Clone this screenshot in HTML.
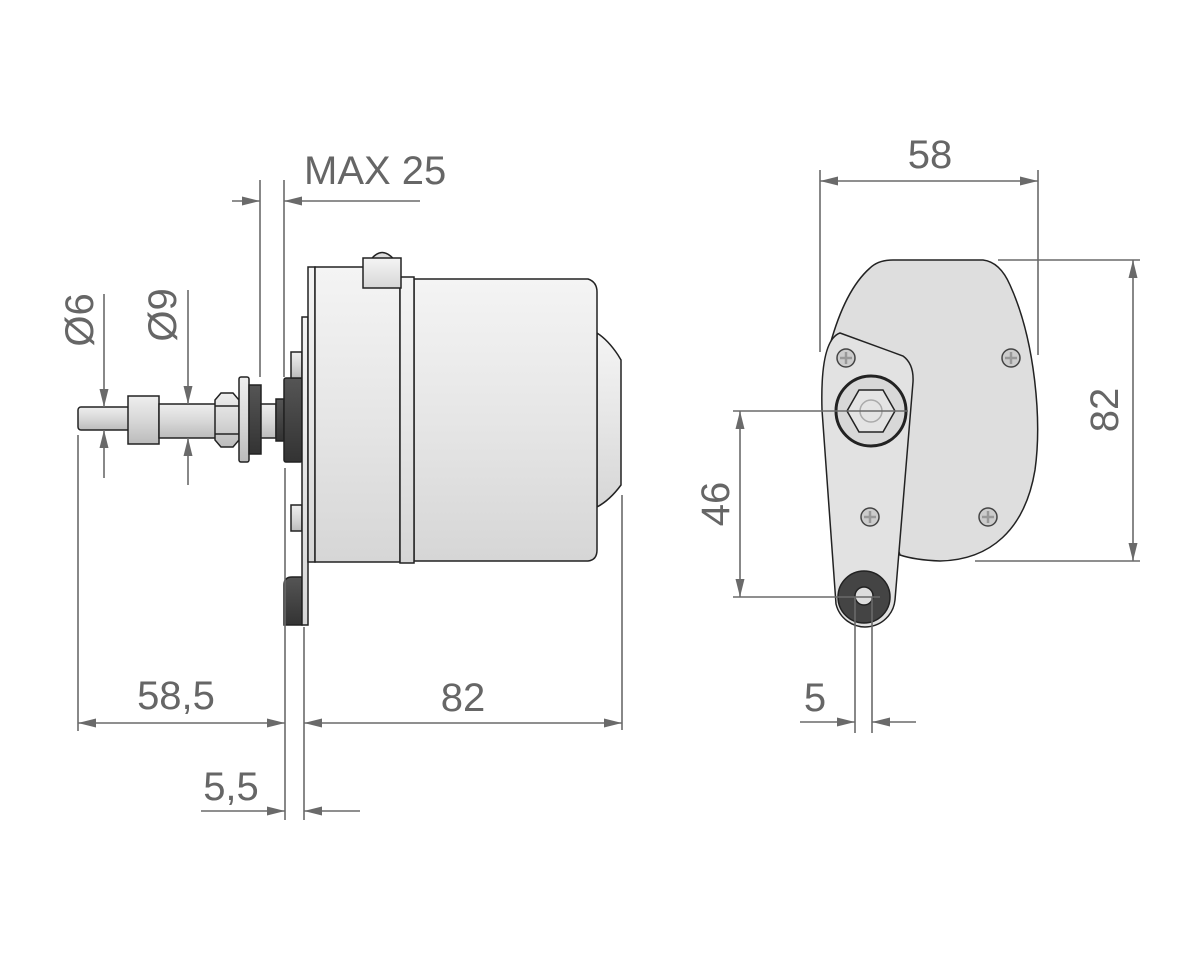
<!DOCTYPE html>
<html><head><meta charset="utf-8"><style>
html,body{margin:0;padding:0;background:#fff;}
svg{display:block;}
text{font-family:"Liberation Sans",Arial,sans-serif;fill:#666;font-size:40px;}
</style></head><body>
<svg width="1200" height="960" viewBox="0 0 1200 960" xmlns="http://www.w3.org/2000/svg">
<defs>
<linearGradient id="gv" x1="0" y1="0" x2="0" y2="1">
<stop offset="0" stop-color="#f4f4f4"/><stop offset="0.5" stop-color="#e6e6e6"/><stop offset="1" stop-color="#d6d6d6"/></linearGradient>
<linearGradient id="gs" x1="0" y1="0" x2="0" y2="1">
<stop offset="0" stop-color="#eee"/><stop offset="0.5" stop-color="#d8d8d8"/><stop offset="1" stop-color="#bbb"/></linearGradient>
<linearGradient id="gd" x1="0" y1="0" x2="0" y2="1">
<stop offset="0" stop-color="#555"/><stop offset="0.5" stop-color="#444"/><stop offset="1" stop-color="#333"/></linearGradient>
<marker id="a" viewBox="0 0 20 10" refX="20" refY="5" markerWidth="22" markerHeight="9" markerUnits="userSpaceOnUse" orient="auto-start-reverse"><path d="M0,0 L20,5 L0,10 Z" fill="#6a6a6a"/></marker>
</defs>

<g stroke="#222" stroke-width="1.5">
<rect x="78" y="407" width="52" height="23" rx="3" fill="url(#gs)"/>
<rect x="128" y="396" width="31" height="48" fill="url(#gs)"/>
<rect x="159" y="404" width="57" height="34" fill="url(#gs)"/>
<path d="M215 400 L221 393 L233 393 L239 400 L239 440 L233 447 L221 447 L215 440 Z" fill="url(#gs)"/>
<line x1="215" y1="406" x2="239" y2="406"/><line x1="215" y1="434" x2="239" y2="434"/>
<rect x="239" y="377" width="10" height="85" rx="2" fill="url(#gs)"/>
<rect x="249" y="385" width="12" height="69" fill="url(#gd)"/>
<rect x="261" y="404" width="15" height="34" fill="url(#gs)"/>
<rect x="276" y="399" width="8" height="42" fill="url(#gd)"/>
<rect x="284" y="378" width="18" height="84" rx="2" fill="url(#gd)"/>
<rect x="291" y="352" width="11" height="26" fill="url(#gs)"/>
<rect x="291" y="505" width="11" height="26" fill="url(#gs)"/>
<path d="M284 625 L284 585 Q284 577 292 577 L302 577 L302 625 Z" fill="url(#gd)"/>
<rect x="302" y="317" width="6" height="308" fill="url(#gv)"/>
<rect x="308" y="267" width="7" height="295" fill="url(#gv)"/>
<rect x="315" y="267" width="85" height="295" fill="url(#gv)"/>
<path d="M597 333 Q608 340 618 355 L621 360 L621 485 Q610 500 597 507 Z" fill="url(#gv)"/>
<path d="M414 279 L588 279 Q597 282 597 292 L597 550 Q597 560 588 561 L414 561 Z" fill="url(#gv)"/>
<rect x="400" y="277" width="14" height="286" fill="url(#gv)"/>
<path d="M369 262 Q382 243 396 262 Z" fill="#ddd"/>
<rect x="363" y="258" width="38" height="30" fill="url(#gv)"/>

<path d="M893 260 L983 260 Q1000 262 1010 285 C1035 340 1042 420 1035 470 C1025 530 990 560 940 561 Q915 560 900 555 L830 345 Q845 290 870 268 Q878 260 893 260 Z" fill="#dedede"/>
<path d="M840 333 L903 356 Q914 364 913 382 L895 600 A30 30 0 0 1 836 604 L822 410 Q820 340 840 333 Z" fill="#e2e2e2"/>
<circle cx="871" cy="411" r="35" fill="#d8d8d8" stroke="#222" stroke-width="3"/>
<path d="M847 411 L859 390 L883 390 L895 411 L883 432 L859 432 Z" fill="#e4e4e4"/>
<circle cx="871" cy="411" r="11" fill="none" stroke="#aaa"/>
<circle cx="864" cy="597" r="26" fill="#444"/>
<circle cx="864" cy="596" r="9" fill="#ddd"/>
</g>
<g fill="#ccc" stroke="#444" stroke-width="1.5">
<circle cx="846" cy="358" r="9"/><circle cx="1011" cy="358" r="9"/><circle cx="870" cy="517" r="9"/><circle cx="988" cy="517" r="9"/>
</g>
<g stroke="#999" stroke-width="2.5">
<path d="M846 352v12M840 358h12M1011 352v12M1005 358h12M870 511v12M864 517h12M988 511v12M982 517h12"/>
</g>

<g stroke="#6a6a6a" stroke-width="1.6" fill="none">
<line x1="104" y1="294" x2="104" y2="407" marker-end="url(#a)"/>
<line x1="104" y1="478" x2="104" y2="430" marker-end="url(#a)"/>
<line x1="188" y1="290" x2="188" y2="404" marker-end="url(#a)"/>
<line x1="188" y1="485" x2="188" y2="438" marker-end="url(#a)"/>
<line x1="260" y1="180" x2="260" y2="377"/>
<line x1="284" y1="180" x2="284" y2="377"/>
<line x1="232" y1="201" x2="260" y2="201" marker-end="url(#a)"/>
<line x1="420" y1="201" x2="284" y2="201" marker-end="url(#a)"/>
<line x1="78" y1="435" x2="78" y2="731"/>
<line x1="285" y1="468" x2="285" y2="820"/>
<line x1="304" y1="627" x2="304" y2="820"/>
<line x1="622" y1="495" x2="622" y2="730"/>
<line x1="78" y1="723" x2="285" y2="723" marker-start="url(#a)" marker-end="url(#a)"/>
<line x1="304" y1="723" x2="622" y2="723" marker-start="url(#a)" marker-end="url(#a)"/>
<line x1="201" y1="811" x2="285" y2="811" marker-end="url(#a)"/>
<line x1="360" y1="811" x2="304" y2="811" marker-end="url(#a)"/>

<line x1="820" y1="170" x2="820" y2="352"/>
<line x1="1038" y1="170" x2="1038" y2="355"/>
<line x1="820" y1="181" x2="1038" y2="181" marker-start="url(#a)" marker-end="url(#a)"/>
<line x1="998" y1="260" x2="1140" y2="260"/>
<line x1="975" y1="561" x2="1140" y2="561"/>
<line x1="1133" y1="260" x2="1133" y2="561" marker-start="url(#a)" marker-end="url(#a)"/>
<line x1="733" y1="411" x2="908" y2="411"/>
<line x1="733" y1="597" x2="880" y2="597"/>
<line x1="740" y1="411" x2="740" y2="597" marker-start="url(#a)" marker-end="url(#a)"/>
<line x1="855" y1="597" x2="855" y2="733"/>
<line x1="872" y1="597" x2="872" y2="733"/>
<line x1="800" y1="722" x2="855" y2="722" marker-end="url(#a)"/>
<line x1="916" y1="722" x2="872" y2="722" marker-end="url(#a)"/>
</g>

<text x="304" y="184">MAX 25</text>
<text x="176" y="709" text-anchor="middle">58,5</text>
<text x="463" y="711" text-anchor="middle">82</text>
<text x="231" y="800" text-anchor="middle">5,5</text>
<text x="930" y="168" text-anchor="middle">58</text>
<text x="815" y="711" text-anchor="middle">5</text>
<text transform="translate(93,320) rotate(-90)" text-anchor="middle">Ø6</text>
<text transform="translate(176,315) rotate(-90)" text-anchor="middle">Ø9</text>
<text transform="translate(1118,410) rotate(-90)" text-anchor="middle">82</text>
<text transform="translate(729,504) rotate(-90)" text-anchor="middle">46</text>
</svg>
</body></html>
